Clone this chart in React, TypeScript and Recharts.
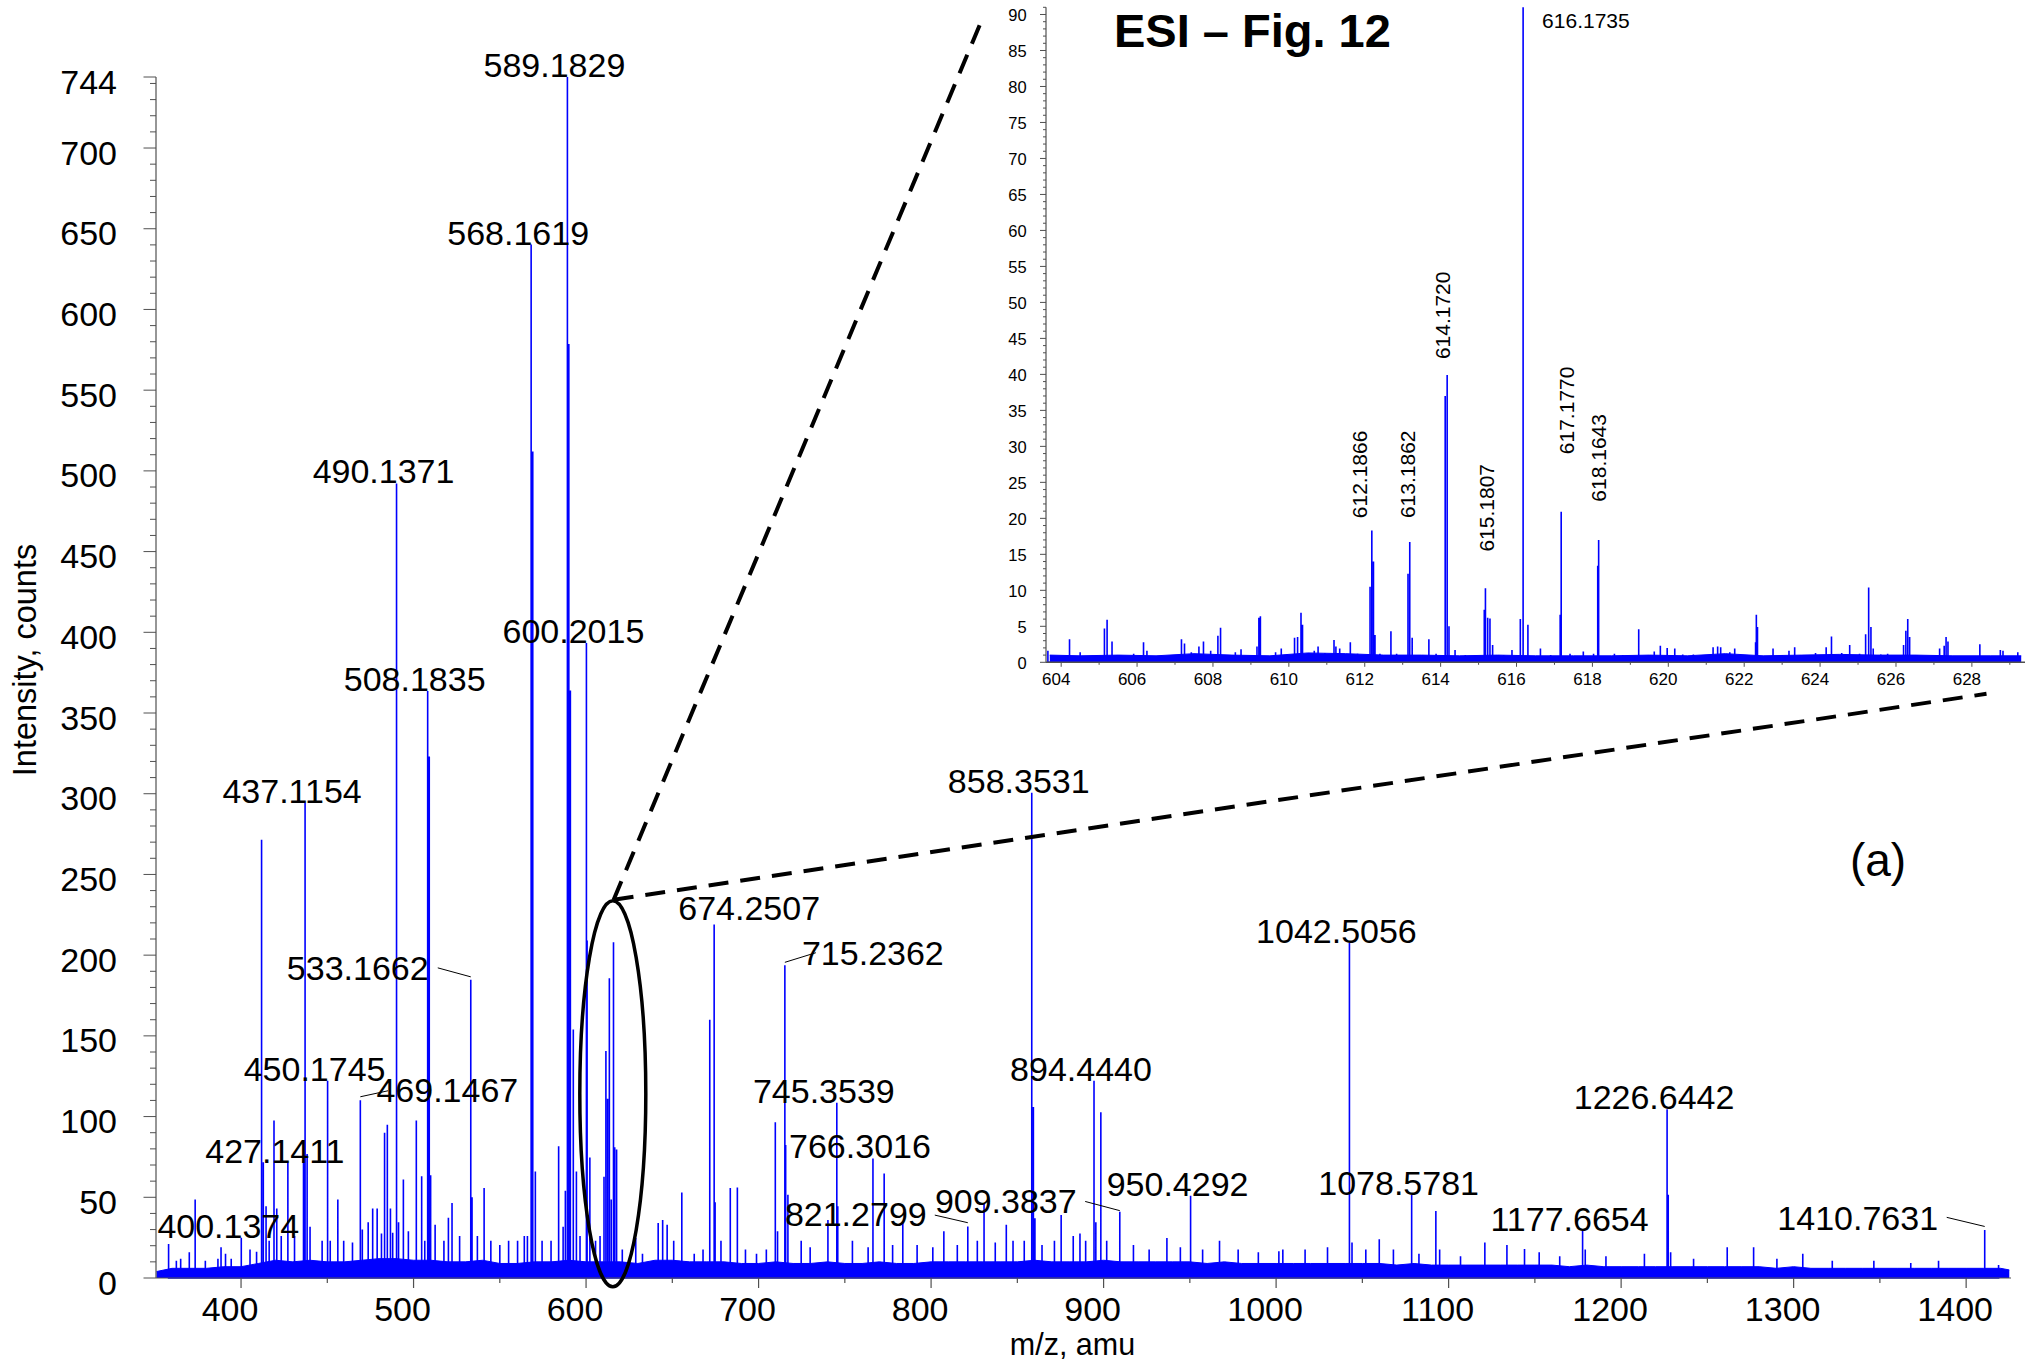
import React from 'react';
import { ComposedChart, XAxis, YAxis, Line, Area, Scatter, ReferenceLine, ReferenceDot, Label } from 'recharts';

const FONT = '"Liberation Sans", Arial, Helvetica, sans-serif';
const BLUE = '#0000ff';
const AXIS = '#505050';

// main spectrum: [m/z, intensity (counts)]
const mainPeaks: [number, number][] = [
  [358.0, 21], [362.5, 10.7], [365.0, 12], [370.0, 16], [373.4, 48.7], [379.3, 10.7], [386.6, 12], [388.4, 19],
  [391.0, 15], [394.3, 12], [400.1374, 25], [405.2, 17.7], [409.0, 16.3], [411.9, 271.5], [412.9, 71.7], [414.5, 44.5],
  [416.3, 23], [419.1, 97.6], [420.7, 43], [423.3, 26], [427.1411, 71.4], [431.0, 26], [436.2, 72.6], [437.1154, 294.4],
  [438.3, 76.8], [440.0, 31.8], [447.0, 23], [450.1745, 122.2], [451.7, 23], [456.1, 48.7], [459.5, 23], [464.6, 22],
  [469.1467, 110.1], [470.3, 30], [473.7, 34.6], [476.3, 43], [478.9, 43], [481.4, 27.6], [483.2, 90], [484.8, 95],
  [486.6, 43], [487.9, 28], [490.1371, 492.2], [491.3, 34.6], [494.1, 61], [497.0, 29], [501.6, 97.6], [504.7, 63],
  [506.5, 23], [508.1835, 363.7], [509.1, 323], [509.9, 63.6], [512.5, 33], [517.6, 23], [520.2, 37.4], [522.3, 46.4],
  [526.7, 26], [533.1662, 184.7], [533.9, 50], [537.0, 26], [540.9, 55.7], [544.8, 23], [550.0, 20.5], [555.1, 23],
  [560.3, 23], [564.2, 26], [566.0, 26], [568.1619, 640.2], [569.1, 512], [570.6, 66], [574.5, 23], [579.7, 23],
  [584.1, 81.6], [586.7, 31.8], [588.0, 54], [589.1829, 744], [590.0, 578.6], [590.9, 364], [592.6, 154], [594.4, 66],
  [596.5, 26], [600.2015, 393.4], [600.6, 209], [602.2, 74.6], [605.5, 23], [608.1, 26], [610.4, 62.7], [611.5, 140.7],
  [612.5, 111], [613.5, 185.7], [614.6, 48.7], [615.9, 208], [616.6, 81], [617.7, 79.6], [621.0, 17.7], [628.8, 24.8],
  [632.7, 15], [641.8, 34], [644.4, 36], [647.0, 33], [650.8, 23], [655.5, 53], [662.7, 15], [667.8, 17.7],
  [671.7, 160], [674.2507, 219], [674.8, 47], [678.2, 23], [683.6, 55.7], [687.7, 56], [692.4, 17.7], [698.8, 15],
  [704.5, 17.7], [709.7, 96.5], [711.0, 29], [715.2362, 193.7], [715.7, 82.4], [717.0, 51.5], [724.7, 23], [729.9, 19],
  [740.2, 36], [745.3539, 108.6], [745.9, 44.5], [754.4, 23], [763.5, 19], [766.3016, 74.1], [772.8, 64.7], [777.7, 20.5],
  [783.6, 34], [791.9, 20.5], [801.0, 19], [807.4, 29], [815.2, 20.5], [821.2799, 31.9], [826.8, 23], [830.7, 45.9],
  [837.2, 22], [843.6, 33], [847.5, 23], [854.0, 23], [858.3531, 300.6], [859.3, 106], [860.2, 37], [864.3, 20.5],
  [871.5, 23], [875.4, 39], [882.4, 26], [886.3, 27.6], [889.6, 23], [894.444, 122.2], [895.5, 34.6], [898.4, 102.7],
  [901.8, 23], [909.3837, 41.1], [917.3, 20.5], [926.4, 17.7], [936.7, 24.8], [944.5, 19], [950.4292, 51], [957.4, 17.7],
  [967.2, 23], [978.0, 17.7], [989.7, 16], [1001.6, 16.5], [1003.9, 17.7], [1016.8, 17.7], [1029.8, 19], [1042.5056, 207.7],
  [1044.0, 22], [1052.0, 17.7], [1059.8, 24], [1068.0, 17.7], [1078.5781, 51.6], [1082.8, 15], [1092.6, 41.5], [1094.8, 17.7],
  [1106.9, 13.5], [1121.0, 22], [1133.8, 20.5], [1144.0, 18], [1152.5, 16], [1164.4, 13.5], [1177.6654, 29.3], [1179.2, 17.7],
  [1191.2, 13.5], [1213.5, 15], [1226.6442, 104.5], [1227.3, 51.5], [1228.7, 16], [1242.0, 12], [1261.5, 19], [1276.8, 19],
  [1290.3, 12], [1305.3, 15], [1322.4, 10.7], [1346.5, 10.7], [1367.9, 9.3], [1384.0, 10.7], [1410.7631, 29.7], [1418.8, 8],
];

// dense noise band along the baseline (envelope)
const mainFloor: [number, number][] = [
  [351, 4], [360, 6], [370, 6], [380, 6], [390, 7], [400, 7], [410, 9], [420, 11], [430, 10], [440, 11], [450, 10], [460, 10],
  [470, 11], [480, 12], [490, 12], [500, 11], [510, 11], [520, 10], [530, 10], [540, 11], [550, 9], [560, 9], [570, 10], [580, 10],
  [590, 11], [600, 10], [610, 10], [620, 10], [630, 9], [640, 11], [650, 11], [660, 10], [670, 10], [680, 10], [690, 9], [700, 9],
  [710, 10], [720, 9], [730, 9], [740, 10], [750, 9], [760, 9], [770, 10], [780, 9], [790, 9], [800, 10], [810, 10], [820, 10],
  [830, 10], [840, 10], [850, 10], [860, 11], [870, 10], [880, 10], [890, 10], [900, 11], [910, 10], [920, 10], [930, 10], [940, 10],
  [950, 10], [960, 9], [970, 10], [980, 9], [990, 9], [1000, 9], [1010, 9], [1020, 9], [1030, 9], [1040, 9], [1050, 9],
  [1060, 9], [1070, 8], [1080, 9], [1090, 8], [1100, 8], [1110, 8], [1120, 8], [1130, 8], [1140, 8], [1150, 8], [1160, 8],
  [1170, 7], [1180, 8], [1190, 7], [1200, 7], [1210, 7], [1220, 7], [1230, 7], [1240, 7], [1250, 7], [1260, 7], [1270, 7],
  [1280, 7], [1290, 6], [1300, 7], [1310, 6], [1320, 6], [1330, 6], [1340, 6], [1350, 6], [1360, 6], [1370, 6], [1380, 6],
  [1390, 6], [1400, 6], [1410, 6], [1420, 6], [1425, 5],
];

const mainLabels = [
  '400.1374', '427.1411', '437.1154', '450.1745', '469.1467', '490.1371', '508.1835', '533.1662', '568.1619',
  '589.1829', '600.2015', '674.2507', '715.2362', '745.3539', '766.3016', '821.2799', '858.3531', '894.4440',
  '909.3837', '950.4292', '1042.5056', '1078.5781', '1177.6654', '1226.6442', '1410.7631',
];

// zoomed inset 604-629
const insetPeaks: [number, number][] = [
  [603.65, 1.6], [604.22, 3.2], [604.5, 1.4], [604.83, 0.9], [605.14, 4.7], [605.21, 5.9], [605.34, 2.9], [605.58, 0.9],
  [605.91, 1.2], [606.17, 2.8], [606.26, 1.6], [606.63, 0.8], [606.76, 0.8], [607.17, 3.2], [607.25, 2.6], [607.43, 1.4],
  [607.63, 2.2], [607.75, 2.9], [607.94, 1.6], [608.13, 3.7], [608.2, 4.8], [608.59, 1.4], [608.74, 1.8], [608.9, 0.8],
  [609.16, 2.2], [609.21, 6.2], [609.25, 6.4], [609.33, 0.8], [609.65, 1.4], [609.8, 1.9], [609.95, 0.8], [610.15, 3.4],
  [610.23, 3.5], [610.32, 6.9], [610.36, 5.2], [610.67, 1.6], [610.77, 2.2], [610.95, 1.3], [611.19, 3.1], [611.24, 2.2],
  [611.34, 1.9], [611.62, 2.8], [611.81, 1.2], [612.14, 10.5], [612.1866, 18.3], [612.23, 14], [612.27, 3.8], [612.4, 1.2],
  [612.69, 4.3], [612.84, 1.2], [613.14, 12.3], [613.1862, 16.7], [613.25, 3.4], [613.44, 1.0], [613.69, 3.2], [613.88, 1.2],
  [614.12, 37], [614.172, 39.9], [614.22, 5], [614.38, 1.7], [614.65, 1.0], [614.91, 1.0], [615.15, 7.3], [615.1807, 10.3],
  [615.24, 6.2], [615.3, 6.1], [615.37, 2.4], [615.66, 1.0], [615.88, 1.7], [616.1, 6], [616.1735, 91], [616.3, 5.2],
  [616.63, 1.9], [616.9, 1.0], [617.15, 6.6], [617.177, 20.9], [617.41, 1.2], [617.76, 1.5], [618.03, 1.2], [618.14, 13.4],
  [618.1643, 17], [618.58, 1.2], [618.8, 1.0], [619.22, 4.6], [619.63, 1.5], [619.79, 2.3], [619.97, 2.0], [620.17, 1.9],
  [620.38, 1.1], [620.66, 1.1], [620.92, 1.0], [621.18, 2.1], [621.3, 2.2], [621.38, 2.1], [621.62, 1.4], [621.75, 1.9],
  [621.95, 0.9], [622.3, 2.8], [622.32, 6.6], [622.35, 4.9], [622.76, 1.9], [623.0, 1.0], [623.18, 1.6], [623.33, 2.1],
  [623.61, 1.0], [623.88, 1.3], [624.16, 2.1], [624.3, 3.6], [624.57, 1.3], [624.78, 2.4], [625.04, 1.2], [625.2, 3.9],
  [625.28, 10.4], [625.34, 4.9], [625.4, 1.9], [625.6, 1.1], [625.78, 1.2], [626.0, 0.8], [626.2, 2.4], [626.26, 4.4],
  [626.31, 6.0], [626.36, 3.5], [626.56, 1.0], [626.8, 0.7], [627.15, 1.9], [627.27, 2.3], [627.32, 3.5], [627.37, 2.9],
  [627.75, 0.8], [628.21, 2.5], [628.6, 0.7], [628.75, 1.7], [628.82, 1.6], [629.21, 1.4],
];

const insetFloor: [number, number][] = [
  [603.7, 1.0], [604.5, 0.9], [605.5, 1.0], [606.5, 0.9], [607.5, 1.2], [608.5, 1.0], [609.5, 0.9], [610.5, 1.3],
  [611.5, 1.2], [612.5, 1.0], [613.5, 1.0], [614.5, 0.9], [615.5, 1.0], [616.5, 0.9], [617.5, 0.9], [618.5, 0.9],
  [619.5, 1.0], [620.5, 0.9], [621.5, 1.2], [622.5, 0.9], [623.5, 1.0], [624.5, 1.1], [625.5, 1.0], [626.5, 1.0],
  [627.5, 0.9], [628.5, 0.9], [629.3, 0.9],
];

const insetLabels = ['612.1866', '613.1862', '614.1720', '615.1807', '616.1735', '617.1770', '618.1643'];

const mainXMajor = [400, 500, 600, 700, 800, 900, 1000, 1100, 1200, 1300, 1400];
const mainYMajor = [0, 50, 100, 150, 200, 250, 300, 350, 400, 450, 500, 550, 600, 650, 700, 744];
const insetXMajor = [604, 606, 608, 610, 612, 614, 616, 618, 620, 622, 624, 626, 628];
const insetYMajor = [0, 5, 10, 15, 20, 25, 30, 35, 40, 45, 50, 55, 60, 65, 70, 75, 80, 85, 90];

// tick marks incl. minor ones
const mainXTicks = [...mainXMajor, ...mainXMajor.slice(0, -1).map((v) => v + 50)].sort((a, b) => a - b);
const mainYTicks = [...Array.from({ length: 75 }, (_, i) => i * 10), 744];
const insetXTicks = Array.from({ length: 26 }, (_, i) => 604 + i);
const insetYTicks = Array.from({ length: 92 }, (_, i) => i);

// label placement (pixels, relative to peak top)
type Pos = { dx: number; dy: number; leader?: number[] };
const mainLabelPos: Record<string, Pos> = {
  '674.2507': { dx: 35, dy: -4 },
  '533.1662': { dx: -113, dy: 0, leader: [-33, -12, 0, -3] },
  '469.1467': { dx: 87, dy: 1.5, leader: [0, -3.5, 27.7, -9.5] },
  '715.2362': { dx: 88, dy: 0, leader: [0, -3, 31, -12.6] },
  '821.2799': { dx: -112, dy: -1, leader: [-33, -11.4, 0, -3.8] },
  '909.3837': { dx: -114, dy: 1, leader: [-34.6, -10.2, 0, -1] },
  '1410.7631': { dx: -127, dy: 0, leader: [-38, -12.7, 0, -3.6] },
};
const insetLabelPos: Record<string, { dx: number; dy: number; rot: boolean }> = {
  '612.1866': { dx: -5, dy: -12.4, rot: true },
  '613.1862': { dx: 5, dy: -24, rot: true },
  '614.1720': { dx: 3, dy: -16, rot: true },
  '615.1807': { dx: 9, dy: -36.6, rot: true },
  '616.1735': { dx: 19, dy: 20.4, rot: false },
  '617.1770': { dx: 13, dy: -57.7, rot: true },
  '618.1643': { dx: 7, dy: -38.3, rot: true },
};

const toSticks = (peaks: [number, number][]) =>
  [...peaks].sort((a, b) => a[0] - b[0]).flatMap(([mz, v]) => [{ mz, v: 0 }, { mz, v }, { mz, v: 0 }]);
const toRows = (rows: [number, number][]) => rows.map(([mz, v]) => ({ mz, v }));
const labelRows = (labels: string[], peaks: [number, number][]) =>
  labels.map((text) => {
    const mz = parseFloat(text);
    const hit = peaks.reduce((best, p) => (Math.abs(p[0] - mz) < Math.abs(best[0] - mz) ? p : best));
    return { mz: hit[0], v: hit[1], text };
  });

const mainSticks = toSticks(mainPeaks);
const mainFloorRows = toRows(mainFloor);
const mainLabelRows = labelRows(mainLabels, mainPeaks);
const insetSticks = toSticks(insetPeaks);
const insetFloorRows = toRows(insetFloor);
const insetLabelRows = labelRows(insetLabels, insetPeaks);

const MainXTick = (p: any) => {
  const v = p.payload.value;
  const major = v % 100 === 0;
  return (
    <g>
      <line x1={p.x} x2={p.x} y1={p.y} y2={p.y + (major ? 10 : 5)} stroke={AXIS} strokeWidth={1.2} />
      {major && (
        <text x={p.x - 11} y={p.y + 43} textAnchor="middle" fontSize={34} fontFamily={FONT} fill="#000">{v}</text>
      )}
    </g>
  );
};

const MainYTick = (p: any) => {
  const v = p.payload.value;
  const major = v % 50 === 0 || v === 744;
  return (
    <g>
      <line x1={p.x - (major ? 12.5 : 6)} x2={p.x} y1={p.y} y2={p.y} stroke={AXIS} strokeWidth={1} />
      {major && (
        <text x={p.x - 39} y={p.y + 16.5} textAnchor="end" fontSize={34} fontFamily={FONT} fill="#000">{v}</text>
      )}
    </g>
  );
};

const InsetXTick = (p: any) => {
  const v = p.payload.value;
  const major = v % 2 === 0;
  return (
    <g>
      <line x1={p.x} x2={p.x} y1={p.y} y2={p.y + (major ? 4.5 : 2.5)} stroke={AXIS} strokeWidth={1} />
      {major && (
        <text x={p.x - 5} y={p.y + 22.7} textAnchor="middle" fontSize={17} fontFamily={FONT} fill="#000">{v}</text>
      )}
    </g>
  );
};

const InsetYTick = (p: any) => {
  const v = p.payload.value;
  const major = v % 5 === 0 && v <= 90;
  return (
    <g>
      <line x1={p.x - (major ? 6 : 3)} x2={p.x} y1={p.y} y2={p.y} stroke={AXIS} strokeWidth={1} />
      {major && (
        <text x={p.x - 19.3} y={p.y + 6.4} textAnchor="end" fontSize={16.5} fontFamily={FONT} fill="#000">{v}</text>
      )}
    </g>
  );
};

const MainPeakLabel = (p: any) => {
  const { cx, cy, payload } = p;
  const pos = mainLabelPos[payload.text] ?? { dx: -13, dy: 0 };
  const l = pos.leader;
  return (
    <g>
      {l && <line x1={cx + l[0]} y1={cy + l[1]} x2={cx + l[2]} y2={cy + l[3]} stroke="#000" strokeWidth={1} />}
      <text x={cx + pos.dx} y={cy + pos.dy} textAnchor="middle" fontSize={34} fontFamily={FONT} fill="#000">
        {payload.text}
      </text>
    </g>
  );
};

const InsetPeakLabel = (p: any) => {
  const { cx, cy, payload } = p;
  const pos = insetLabelPos[payload.text];
  const x = cx + pos.dx;
  const y = cy + pos.dy;
  return (
    <text x={x} y={y} transform={pos.rot ? `rotate(-90 ${x} ${y})` : undefined} fontSize={21} fontFamily={FONT} fill="#000">
      {payload.text}
    </text>
  );
};

const Ellipse = (p: any) => (
  <ellipse cx={p.cx} cy={p.cy} rx={33} ry={193} fill="none" stroke="#000" strokeWidth={3.5} />
);

export default function App() {
  return (
    <div style={{ position: 'absolute', left: 0, top: 0, width: 2025, height: 1362, background: '#fff' }}>
      <div style={{ position: 'absolute', left: 0, top: 0 }}>
        <ComposedChart width={2025} height={1362} margin={{ top: 77, right: 14, bottom: 0, left: 0 }}>
          <XAxis
            type="number"
            dataKey="mz"
            domain={[350.7, 1426]}
            ticks={mainXTicks}
            interval={0}
            tick={MainXTick}
            tickLine={false}
            tickSize={0}
            tickMargin={0}
            height={84}
            axisLine={{ stroke: AXIS, strokeWidth: 1.2 }}
          >
            <Label
              content={(lp: any) => (
                <text
                  x={lp.viewBox.x + lp.viewBox.width / 2 - 11}
                  y={lp.viewBox.y + 77.2}
                  textAnchor="middle"
                  fontSize={30.5}
                  fontFamily={FONT}
                  fill="#000"
                >
                  m/z, amu
                </text>
              )}
            />
          </XAxis>
          <YAxis
            type="number"
            domain={[0, 744]}
            ticks={mainYTicks}
            interval={0}
            tick={MainYTick}
            tickLine={false}
            tickSize={0}
            tickMargin={0}
            width={156}
            axisLine={{ stroke: AXIS, strokeWidth: 1.2 }}
          >
            <Label
              content={(lp: any) => {
                const x = lp.viewBox.x + 36;
                const y = lp.viewBox.y + 583;
                return (
                  <text x={x} y={y} transform={`rotate(-90 ${x} ${y})`} textAnchor="middle" fontSize={32.5} fontFamily={FONT} fill="#000">
                    Intensity, counts
                  </text>
                );
              }}
            />
          </YAxis>
          <Area data={mainFloorRows} dataKey="v" type="linear" stroke={BLUE} strokeWidth={1} fill={BLUE} fillOpacity={1} isAnimationActive={false} />
          <Line data={mainSticks} dataKey="v" type="linear" stroke={BLUE} strokeWidth={1.6} dot={false} activeDot={false} isAnimationActive={false} />
          <Scatter data={mainLabelRows} dataKey="v" shape={MainPeakLabel} isAnimationActive={false} />
          <ReferenceDot x={615.5} y={114.1} r={0} shape={Ellipse} ifOverflow="visible" />
          <ReferenceLine
            segment={[{ x: 616.0, y: 234.3 }, { x: 829.4, y: 779.3 }]}
            ifOverflow="visible"
            stroke="#000"
            strokeWidth={4}
            strokeDasharray="20 12"
          />
          <ReferenceLine
            segment={[{ x: 616.0, y: 234.3 }, { x: 1411.8, y: 361.9 }]}
            ifOverflow="visible"
            stroke="#000"
            strokeWidth={4}
            strokeDasharray="20 12"
          />
        </ComposedChart>
      </div>

      <div style={{ position: 'absolute', left: 950, top: 0 }}>
        <ComposedChart width={1075} height={700} margin={{ top: 7.3, right: 0, bottom: 0, left: 0 }}>
          <XAxis
            type="number"
            dataKey="mz"
            domain={[603.6, 629.4]}
            ticks={insetXTicks}
            interval={0}
            tick={InsetXTick}
            tickLine={false}
            tickSize={0}
            tickMargin={0}
            height={37.7}
            axisLine={{ stroke: AXIS, strokeWidth: 1.5 }}
          />
          <YAxis
            type="number"
            domain={[0, 91]}
            ticks={insetYTicks}
            interval={0}
            tick={InsetYTick}
            tickLine={false}
            tickSize={0}
            tickMargin={0}
            width={96}
            axisLine={{ stroke: AXIS, strokeWidth: 1.2 }}
          />
          <Area data={insetFloorRows} dataKey="v" type="linear" stroke={BLUE} strokeWidth={1} fill={BLUE} fillOpacity={1} isAnimationActive={false} />
          <Line data={insetSticks} dataKey="v" type="linear" stroke={BLUE} strokeWidth={1.6} dot={false} activeDot={false} isAnimationActive={false} />
          <Scatter data={insetLabelRows} dataKey="v" shape={InsetPeakLabel} isAnimationActive={false} />
        </ComposedChart>
      </div>

      <svg width={2025} height={1362} style={{ position: 'absolute', left: 0, top: 0, pointerEvents: 'none' }}>
        <text x={1114} y={46.7} fontSize={47} fontWeight="bold" fontFamily={FONT} fill="#000">ESI – Fig. 12</text>
        <text x={1878} y={876} fontSize={46} textAnchor="middle" fontFamily={FONT} fill="#000">(a)</text>
      </svg>
    </div>
  );
}
